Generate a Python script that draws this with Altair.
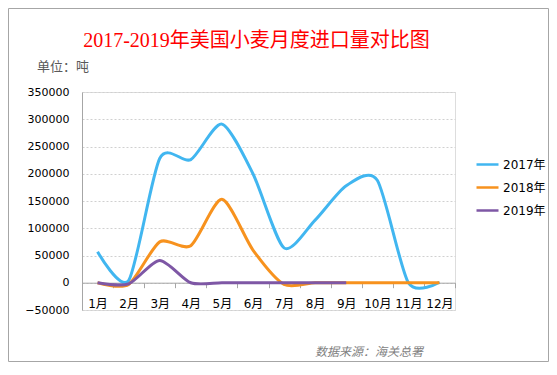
import altair as alt
import pandas as pd

months = ["1月", "2月", "3月", "4月", "5月", "6月", "7月", "8月", "9月", "10月", "11月", "12月"]
v2017 = [57000, 4000, 228000, 226000, 291000, 200000, 64000, 115000, 178000, 188000, 0, 1000]
v2018 = [0, -3000, 75000, 68000, 153000, 60000, -3000, 0, 0, 0, 0, 0]
v2019 = [0, -2000, 41000, 0, 0, 0, 0, 0, 0]
series = ["2017年", "2018年", "2019年"]
colors = ["#41B6F0", "#F7921E", "#7E57A5"]
y_ticks = [-50000, 0, 50000, 100000, 150000, 200000, 250000, 300000, 350000]

rows = []
for name, vals in zip(series, [v2017, v2018, v2019]):
    for m, v in zip(months, vals):
        rows.append({"month": m, "value": v, "year": name})
df = pd.DataFrame(rows)

W, H = 373, 218
PL, PT, PR, PB = 74, 84, 94, 52

lines = alt.Chart(df).mark_line(
    interpolate="cardinal", tension=0.25, strokeWidth=3
).encode(
    x=alt.X("month:O", sort=months, bandPosition=0.5,
            scale=alt.Scale(type="band", domain=months, paddingInner=0, paddingOuter=0),
            axis=alt.Axis(title=None, orient="bottom", offset=-27.3, labelAngle=0,
                          domainColor="#A6A6A6", tickColor="#A6A6A6", tickSize=5,
                          tickBand="extent", labelPadding=11, labelFontSize=12,
                          labelColor="#000000", labelFont="DejaVu Sans, Noto Sans CJK SC",
                          grid=False)),
    y=alt.Y("value:Q", scale=alt.Scale(domain=[-50000, 350000], nice=False, zero=False),
            axis=alt.Axis(title=None, values=y_ticks, format="d", ticks=False,
                          domainColor="#A6A6A6", labelPadding=13, labelFontSize=11,
                          labelColor="#000000", labelFont="DejaVu Sans",
                          grid=True, gridColor="#D0D0D0", gridDash=[2, 2])),
    color=alt.Color("year:N", scale=alt.Scale(domain=series, range=colors),
                    legend=alt.Legend(title=None, orient="none", legendX=393, legendY=60,
                                      symbolType="stroke", symbolSize=484,
                                      symbolStrokeWidth=2.5, labelFontSize=12,
                                      labelColor="#000000", rowPadding=4, labelOffset=3,
                                      labelFont="DejaVu Sans, Noto Sans CJK SC")),
)

one = pd.DataFrame({"a": [0]})

border = alt.Chart(one).mark_rect(
    fillOpacity=0, stroke="#A6A6A6", strokeWidth=1
).encode(
    x=alt.value(-PL + 0.5), x2=alt.value(W + PR - 0.5),
    y=alt.value(-PT + 0.5), y2=alt.value(H + PB - 0.5),
)

title = alt.Chart(one).mark_text(
    text="2017-2019年美国小麦月度进口量对比图", fontSize=20, color="#FF0000",
    font="Liberation Serif, Noto Sans CJK SC", align="center", baseline="alphabetic"
).encode(x=alt.value(174.5), y=alt.value(-45))

unit = alt.Chart(one).mark_text(
    text="单位：吨", fontSize=13, color="#595959",
    font="Noto Sans CJK SC", align="left", baseline="middle"
).encode(x=alt.value(-45), y=alt.value(-25))

source = alt.Chart(one).mark_text(
    text="数据来源：海关总署", fontSize=12, color="#7F7F7F", fontStyle="italic",
    font="Noto Sans CJK SC", align="left", baseline="middle"
).encode(x=alt.value(233), y=alt.value(259.5))

chart = alt.layer(border, lines, title, unit, source).properties(
    width=W, height=H,
    autosize=alt.AutoSizeParams(type="none"),
    padding={"left": PL, "top": PT, "right": PR, "bottom": PB},
).configure_view(stroke=None).configure(background="#FFFFFF")

chart.save("out.html", embed_options={"renderer": "svg", "actions": False})
